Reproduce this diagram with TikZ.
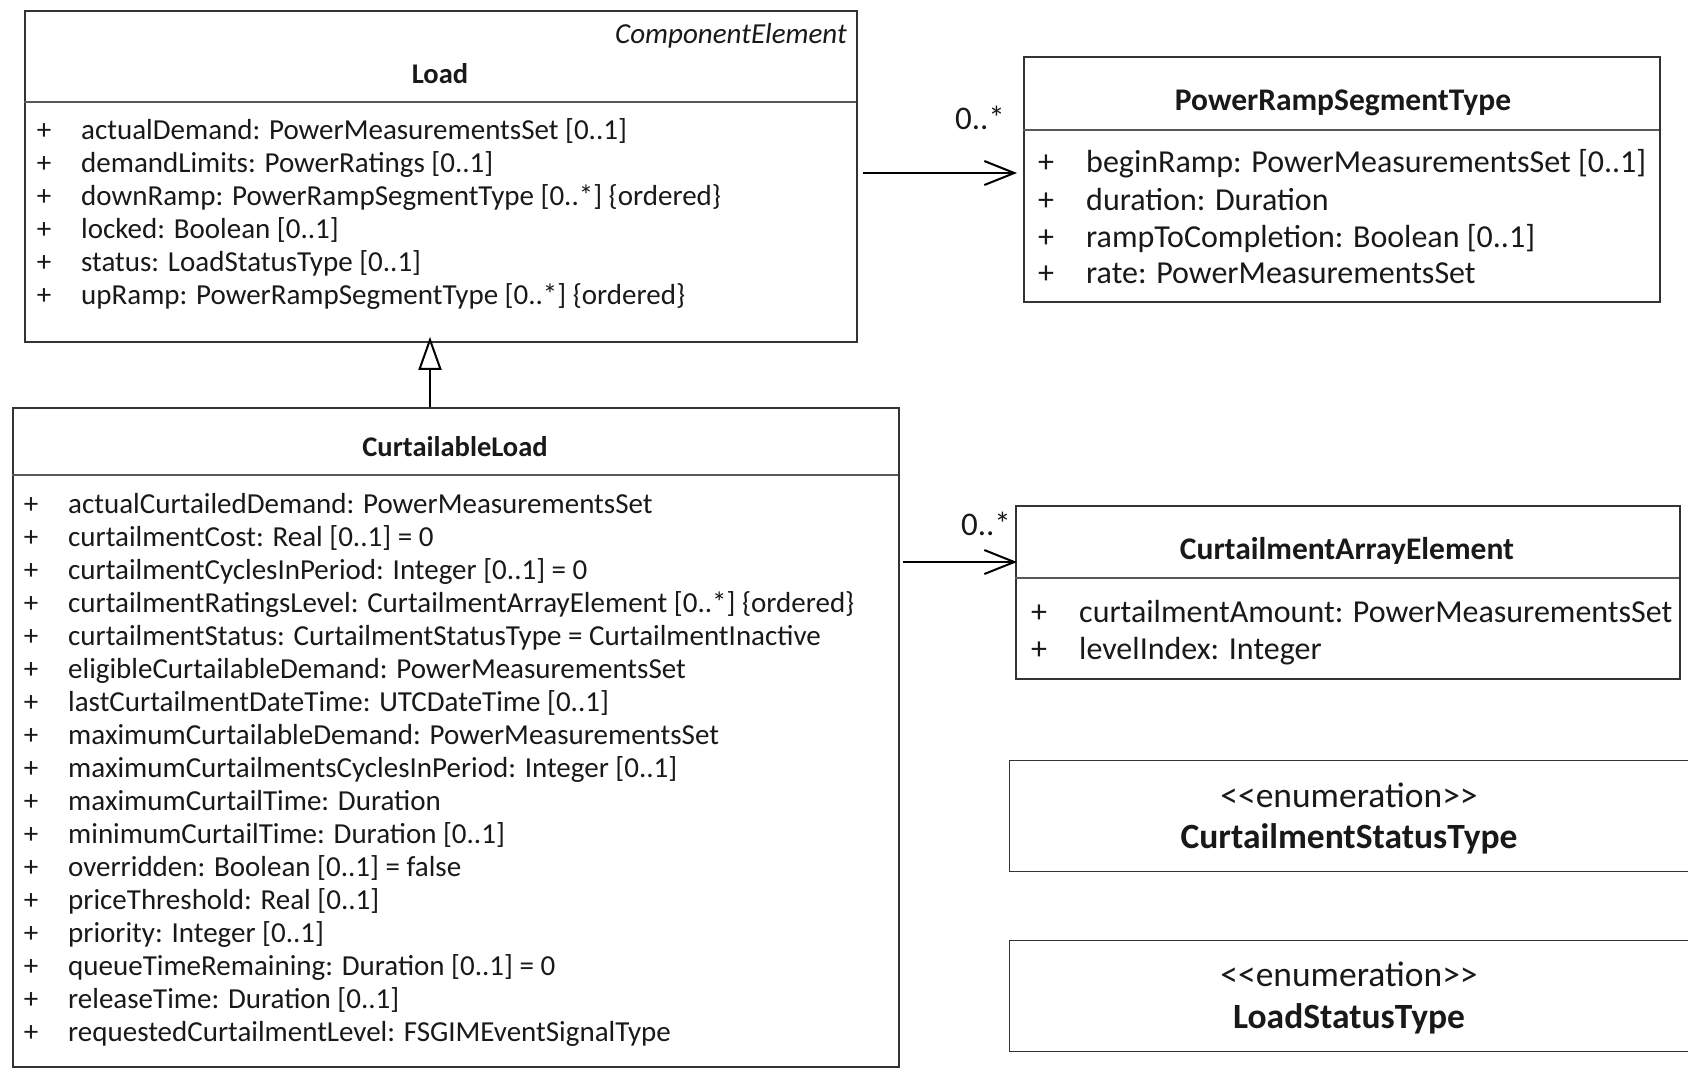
\documentclass[tikz,border=0pt]{standalone}
\usepackage{fontspec}
\setmainfont{Carlito}
\usetikzlibrary{arrows.meta}
\tikzset{
  x=1pt, y=-1pt,
  umlbox/.style={draw=black!80, line width=1.8pt, fill=white, inner sep=0pt, anchor=north west},
  divider/.style={draw=black!65, line width=2.4pt},
  txt/.style={inner sep=0pt, text height=0.66em, text depth=0pt, text=black!90,
    yshift=-7pt, font=\fontsize{29}{33}\selectfont},
  attr/.style={txt, anchor=west},
  plus/.style={txt, anchor=center},
  bigattr/.style={attr, yshift=-0.7pt, font=\fontsize{32}{37}\selectfont},
  bigplus/.style={plus, yshift=-0.7pt, font=\fontsize{32}{37}\selectfont},
  title/.style={txt, anchor=center, font=\fontsize{28.5}{33}\selectfont\bfseries},
  bigtitle/.style={txt, anchor=center, yshift=-0.5pt, font=\fontsize{31.5}{36}\selectfont\bfseries},
  stereo/.style={txt, anchor=east, font=\fontsize{29}{33}\selectfont\itshape},
  enumlabel/.style={txt, anchor=center, yshift=-2pt, font=\fontsize{35.5}{40}\selectfont},
  enumtitle/.style={txt, anchor=center, yshift=-2pt, font=\fontsize{35.5}{40}\selectfont\bfseries},
  mult/.style={txt, anchor=center, font=\fontsize{33}{36}\selectfont},
  assoc/.style={draw=black, line width=2pt, -{Straight Barb[length=30pt, width=24pt, line width=2pt]}},
  generalize/.style={draw=black, line width=2pt, -{Triangle[open, length=33pt, width=23pt, line width=2pt, fill=white]}}
}
\begin{document}
\begin{tikzpicture}
\useasboundingbox (0,0) rectangle (1688,1068);
\clip (0,0) rectangle (1688,1068);

% ---------- Load ----------
\node[umlbox, minimum width=832pt, minimum height=331pt] (load) at (24,10) {};
\draw[divider] (24,102) -- (856,102);
\node[stereo] (loadst) at (847,33) {ComponentElement};
\node[title] (loadt) at (440,73) {Load};
\foreach \yy/\nm/\tx in {
  129/la1/{actualDemand: PowerMeasurementsSet [0..1]},
  162.5/la2/{demandLimits: PowerRatings [0..1]},
  195.5/la3/{downRamp: PowerRampSegmentType [0..*] \{ordered\}},
  228.5/la4/{locked: Boolean [0..1]},
  261.5/la5/{status: LoadStatusType [0..1]},
  294/la6/{upRamp: PowerRampSegmentType [0..*] \{ordered\}}}
{
  \node[plus] (\nm p) at (44,\yy) {+};
  \node[attr] (\nm) at (81,\yy) {\tx};
}

% ---------- PowerRampSegmentType ----------
\node[umlbox, minimum width=636pt, minimum height=245pt] (prst) at (1023,56) {};
\draw[divider] (1023,130) -- (1659,130);
\node[bigtitle] (prstt) at (1343,100) {PowerRampSegmentType};
\foreach \yy/\nm/\tx in {
  161.5/pa1/{beginRamp: PowerMeasurementsSet [0..1]},
  199/pa2/{duration: Duration},
  236/pa3/{rampToCompletion: Boolean [0..1]},
  272/pa4/{rate: PowerMeasurementsSet}}
{
  \node[bigplus] (\nm p) at (1046,\yy) {+};
  \node[bigattr] (\nm) at (1086,\yy) {\tx};
}

% ---------- CurtailableLoad ----------
\node[umlbox, minimum width=886pt, minimum height=659pt] (cl) at (12,407) {};
\draw[divider] (12,475) -- (898,475);
\node[title] (clt) at (455,446) {CurtailableLoad};
\foreach \k/\tx in {
  0/{actualCurtailedDemand: PowerMeasurementsSet},
  1/{curtailmentCost: Real [0..1] = 0},
  2/{curtailmentCyclesInPeriod: Integer [0..1] = 0},
  3/{curtailmentRatingsLevel: CurtailmentArrayElement [0..*] \{ordered\}},
  4/{curtailmentStatus: CurtailmentStatusType = CurtailmentInactive},
  5/{eligibleCurtailableDemand: PowerMeasurementsSet},
  6/{lastCurtailmentDateTime: UTCDateTime [0..1]},
  7/{maximumCurtailableDemand: PowerMeasurementsSet},
  8/{maximumCurtailmentsCyclesInPeriod: Integer [0..1]},
  9/{maximumCurtailTime: Duration},
  10/{minimumCurtailTime: Duration [0..1]},
  11/{overridden: Boolean [0..1] = false},
  12/{priceThreshold: Real [0..1]},
  13/{priority: Integer [0..1]},
  14/{queueTimeRemaining: Duration [0..1] = 0},
  15/{releaseTime: Duration [0..1]},
  16/{requestedCurtailmentLevel: FSGIMEventSignalType}}
{
  \pgfmathsetmacro\yy{502.7+33.04*\k}
  \node[plus] (ca\k p) at (31,\yy) {+};
  \node[attr] (ca\k) at (68,\yy) {\tx};
}

% ---------- CurtailmentArrayElement ----------
\node[umlbox, minimum width=664pt, minimum height=173pt] (cae) at (1015,505) {};
\draw[divider] (1015,578) -- (1679,578);
\node[bigtitle] (caet) at (1347,549) {CurtailmentArrayElement};
\node[bigplus] (ea1p) at (1039,611.5) {+};
\node[bigattr] (ea1) at (1079,611.5) {curtailmentAmount: PowerMeasurementsSet};
\node[bigplus] (ea2p) at (1039,648) {+};
\node[bigattr] (ea2) at (1079,648) {levelIndex: Integer};

% ---------- Enumerations ----------
\node[umlbox, line width=1.4pt, minimum width=720pt, minimum height=111pt] (cst) at (1009,760) {};
\node[enumlabel] (cstl) at (1349,795.5) {<\kern0pt<enumeration>\kern0pt>};
\node[enumtitle] (cstt) at (1349,836.5) {CurtailmentStatusType};
\node[umlbox, line width=1.4pt, minimum width=720pt, minimum height=111pt] (lst) at (1009,940) {};
\node[enumlabel] (lstl) at (1349,974) {<\kern0pt<enumeration>\kern0pt>};
\node[enumtitle] (lstt) at (1349,1016) {LoadStatusType};

% ---------- Connectors ----------
\coordinate (a1s) at ([xshift=5pt]load.east |- 0,173);
\coordinate (a1e) at ([xshift=-6pt]prst.west |- 0,173);
\draw[assoc] (a1s) -- (a1e);
\node[mult] (m1) at (980,119.5) {0..*};

\coordinate (a2s) at ([xshift=3pt]cl.east |- 0,562);
\coordinate (a2e) at ([xshift=2pt]cae.west |- 0,562);
\draw[assoc] (a2s) -- (a2e);
\node[mult] (m2) at (986,525) {0..*};

\coordinate (gs) at (cl.north -| 430,0);
\coordinate (ge) at (load.south -| 430,0);
\draw[generalize] (gs) -- ([yshift=6pt]ge);
\end{tikzpicture}
\end{document}
